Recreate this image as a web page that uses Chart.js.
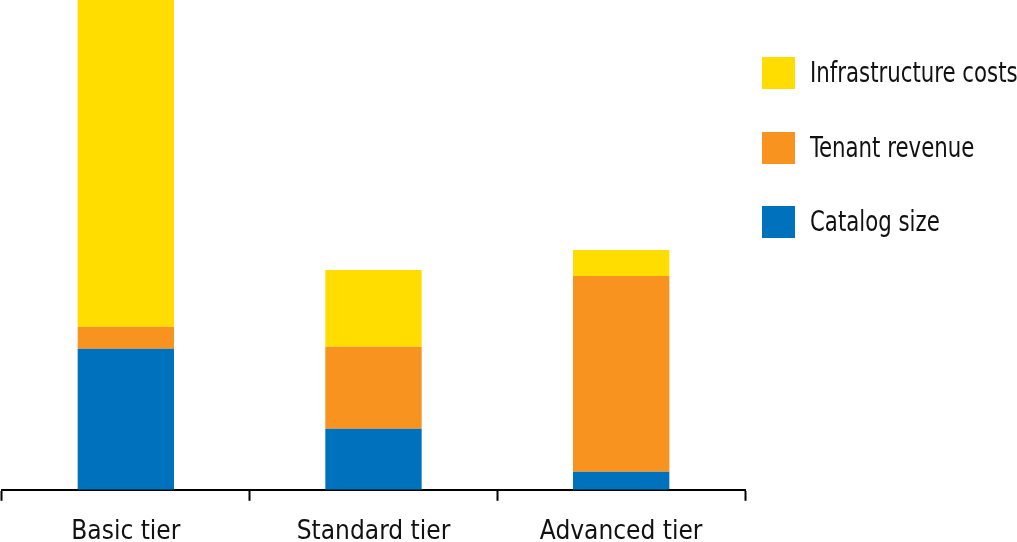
<!DOCTYPE html>
<html>
<head>
<meta charset="utf-8">
<script src="https://cdn.jsdelivr.net/npm/chart.js@4"></script>
<style>
    body { margin: 0; background: #fff; }
    #wrap { position: relative; width: 1017px; height: 542px; overflow: hidden; }
    #legend { position: absolute; left: 762px; top: 57px; font-family: 'DejaVu Sans Condensed', sans-serif; font-size: 28px; color: #111; }
    .item { position: absolute; left: 0; height: 33px; white-space: nowrap; }
    .box { position: absolute; left: 0; top: 0; width: 33px; height: 32px; }
    .label { position: absolute; left: 48px; top: 0; line-height: 32px; transform: scaleX(0.845); transform-origin: left center; }
</style>
</head>
<body>
<div id="wrap">
    <canvas id="chart" width="1017" height="564"></canvas>
    <div id="legend"></div>
</div>
<script>
// Chart data (stack order bottom to top)
const categories = ['Basic tier', 'Standard tier', 'Advanced tier'];
const catalogSize = [14.1, 6.1, 1.8];
const tenantRevenue = [2.2, 8.2, 19.6];
const infraCosts = [32.7, 7.7, 2.6];

const seriesNames = ['Catalog size', 'Tenant revenue', 'Infrastructure costs'];
const seriesColors = ['#0071BC', '#F7931E', '#FFDD00'];
const seriesData = [catalogSize, tenantRevenue, infraCosts];

const fontFamily = "'DejaVu Sans Condensed', sans-serif";

const datasets = seriesData.map((d, i) => ({
    label: seriesNames[i],
    data: d,
    backgroundColor: seriesColors[i],
    borderWidth: 0,
    categoryPercentage: 1,
    barPercentage: 0.389
}));

new Chart(document.getElementById('chart'), {
    type: 'bar',
    data: { labels: categories, datasets: datasets },
    options: {
        responsive: false,
        animation: false,
        layout: { padding: { left: 2, right: 272, top: 0, bottom: 0 } },
        plugins: {
            legend: { display: false },
            tooltip: { enabled: false }
        },
        scales: {
            x: {
                stacked: true,
                grid: {
                    offset: true,
                    drawOnChartArea: false,
                    drawTicks: true,
                    tickLength: 11,
                    tickWidth: 2,
                    tickColor: '#000'
                },
                border: { display: true, color: '#000', width: 2 },
                ticks: {
                    color: '#111',
                    padding: 16,
                    font: { family: fontFamily, size: 26 }
                }
            },
            y: {
                stacked: true,
                display: false,
                min: 0,
                max: 49
            }
        }
    }
});

// Legend, top to bottom
const legend = document.getElementById('legend');
for (let i = seriesNames.length - 1; i >= 0; i--) {
    const row = seriesNames.length - 1 - i;
    const item = document.createElement('div');
    item.className = 'item';
    item.style.top = (row * 74.5) + 'px';
    item.innerHTML = '<div class="box" style="background:' + seriesColors[i] + '"></div><div class="label">' + seriesNames[i] + '</div>';
    legend.appendChild(item);
}
</script>
</body>
</html>
